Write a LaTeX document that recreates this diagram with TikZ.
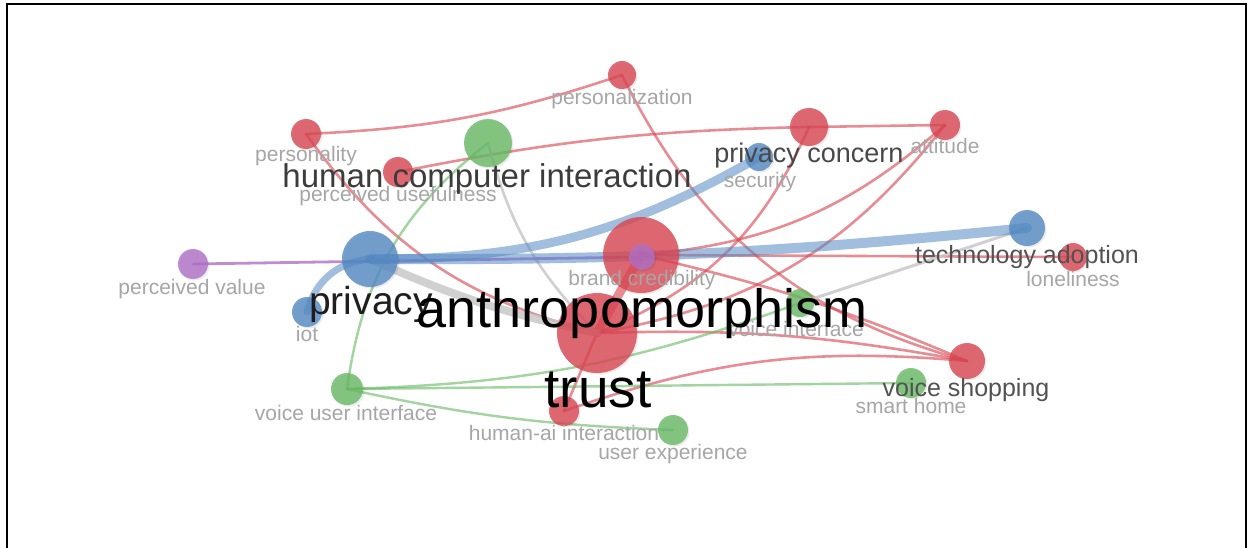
\documentclass[tikz,border=0pt]{standalone}
\usepackage{fontspec}
\setmainfont{Liberation Sans}
\pgfdeclarelayer{canvas}
\pgfdeclarelayer{links}
\pgfsetlayers{canvas,links,main}

% cluster colours
\definecolor{cRed}{RGB}{218,70,82}
\definecolor{cBlue}{RGB}{84,138,196}
\definecolor{cGreen}{RGB}{104,186,100}
\definecolor{cPurple}{RGB}{176,112,198}
\definecolor{cGrey}{RGB}{200,200,200}
\definecolor{txtSmall}{RGB}{166,166,166}
\definecolor{txtMid}{RGB}{82,82,82}

\tikzset{
  bubble/.style={circle, inner sep=0pt, outer sep=0pt, fill opacity=0.8,
    preaction={fill=black, fill opacity=0.08,
      transform canvas={shift={(1.5pt,-1.5pt)}}}},
  rednode/.style={bubble, fill=cRed, minimum size=#1},
  bluenode/.style={bubble, fill=cBlue, minimum size=#1},
  greennode/.style={bubble, fill=cGreen, minimum size=#1},
  purplenode/.style={bubble, fill=cPurple, minimum size=#1},
  link/.style={line cap=round, line width=2.6pt, draw opacity=0.62},
  redlink/.style={link, draw=cRed},
  greenlink/.style={link, draw=cGreen, line width=2.4pt},
  bluelink/.style={link, draw=cBlue, draw opacity=0.55},
  purplelink/.style={link, draw=cPurple, line width=2.8pt, draw opacity=0.8},
  greylink/.style={link, draw=cGrey, draw opacity=0.85},
  smalllabel/.style={anchor=base, inner sep=0pt, text=txtSmall,
    font=\fontsize{21}{21}\selectfont},
  midlabel/.style={anchor=base, inner sep=0pt, text=txtMid,
    font=\fontsize{#1}{#1}\selectfont},
  biglabel/.style={anchor=base, inner sep=0pt, text=black,
    font=\fontsize{#1}{#1}\selectfont},
}

\begin{document}
\begin{tikzpicture}[x=1pt, y=-1pt]
\useasboundingbox (0,0) rectangle (1249,548);
\begin{pgfonlayer}{canvas}
  \fill[white] (0,0) rectangle (1249,548);
  \draw[line width=2pt] (7,548) -- (7,4) -- (1246,4) -- (1246,548);
\end{pgfonlayer}

% keyword bubbles
\node[rednode=28]    (personalization) at (622,75)  {};
\node[rednode=30]    (personality)     at (306,134) {};
\node[greennode=48]  (hci)             at (488,143) {};
\node[rednode=30]    (percUse)         at (398,172) {};
\node[rednode=38]    (privConcern)     at (809,127) {};
\node[rednode=30]    (attitude)        at (945,125) {};
\node[bluenode=28]   (security)        at (759,157) {};
\node[bluenode=36]   (techAdopt)       at (1027,228) {};
\node[rednode=28]    (loneliness)      at (1073,257) {};
\node[rednode=76]    (anthro)          at (641,255) {};
\node[purplenode=26] (brandCred)       at (642,257) {};
\node[rednode=80]    (trust)           at (597,333) {};
\node[bluenode=56]   (privacy)         at (370,259) {};
\node[purplenode=30] (percValue)       at (193,264) {};
\node[bluenode=30]   (iot)             at (307,312) {};
\node[greennode=28]  (voiceIf)         at (800,303) {};
\node[rednode=36]    (voiceShop)       at (967,361) {};
\node[greennode=30]  (smartHome)       at (911,383) {};
\node[greennode=32]  (vui)             at (347,389) {};
\node[rednode=30]    (humanAi)         at (564,411) {};
\node[greennode=30]  (userExp)         at (673,430) {};

% co-occurrence links
\begin{pgfonlayer}{links}
  % red cluster
  \draw[redlink] (personality.center) to[bend right=8] (personalization.center);
  \draw[redlink] (personalization.center) to[bend right=24] (voiceShop.center);
  \draw[redlink] (personality.center) to[bend right=20] (trust.center);
  \draw[redlink] (percUse.center) to[bend left=5] (privConcern.center);
  \draw[redlink] (privConcern.center) -- (attitude.center);
  \draw[redlink] (privConcern.center) to[bend left=22] (trust.center);
  \draw[redlink] (attitude.center) to[bend left=18] (anthro.center);
  \draw[redlink] (attitude.center) to[bend left=21] (trust.center);
  \draw[redlink] (anthro.center) -- (loneliness.center);
  \draw[redlink] (anthro.center) to[bend left=5] (voiceShop.center);
  \draw[redlink] (trust.center) to[bend left=6] (voiceShop.center);
  \draw[redlink] (humanAi.center) to[bend left=12] (voiceShop.center);
  \draw[redlink] (humanAi.center) -- (trust.center);
  \draw[redlink, line width=9pt] (anthro.center) -- (trust.center);
  % green cluster
  \draw[greenlink] (hci.center) to[bend right=22] (vui.center);
  \draw[greenlink] (vui.center) to[bend right=9] (voiceIf.center);
  \draw[greenlink] (vui.center) -- (smartHome.center);
  \draw[greenlink] (vui.center) to[bend right=5] (userExp.center);
  % grey links between clusters
  \draw[greylink, line width=8pt] (privacy.center) to[bend right=6] (trust.center);
  \draw[greylink, line width=2.6pt] (hci.center) to[bend right=15] (trust.center);
  \draw[greylink, line width=3pt] (techAdopt.center) -- (voiceIf.center);
  % purple cluster
  \draw[purplelink] (percValue.center) -- (brandCred.center);
  % blue cluster
  \draw[bluelink, line width=9pt] (privacy.center) to[bend right=15] (security.center);
  \draw[bluelink, line width=10pt] (privacy.center) to[bend right=3] (techAdopt.center);
  \draw[bluelink, line width=7pt] (privacy.center) to[bend right=35] (iot.center);
\end{pgfonlayer}

% small labels
\node[smalllabel] (l-personalization) at (622,105) {personalization};
\node[smalllabel] (l-personality)     at (306,162) {personality};
\node[smalllabel] (l-percUse)         at (398,201) {perceived usefulness};
\node[smalllabel] (l-security)        at (760,188) {security};
\node[smalllabel] (l-attitude)        at (945,154) {attitude};
\node[smalllabel] (l-loneliness)      at (1073,286) {loneliness};
\node[smalllabel] (l-brandCred)       at (642,285) {brand credibility};
\node[smalllabel] (l-percValue)       at (192,294) {perceived value};
\node[smalllabel] (l-iot)             at (307,341) {iot};
\node[smalllabel] (l-voiceIf)         at (796,336) {voice interface};
\node[smalllabel] (l-smartHome)       at (911,413) {smart home};
\node[smalllabel] (l-vui)             at (346,420) {voice user interface};
\node[smalllabel] (l-humanAi)         at (564,440) {human-ai interaction};
\node[smalllabel] (l-userExp)         at (673,459) {user experience};

% medium labels
\node[midlabel=33, text={rgb,255:red,60;green,60;blue,60}] (l-hci) at (487,187) {human computer interaction};
\node[midlabel=27, text={rgb,255:red,72;green,72;blue,72}] (l-privConcern) at (809,163) {privacy concern};
\node[midlabel=25] (l-techAdopt) at (1027,263) {technology adoption};
\node[midlabel=25] (l-voiceShop) at (966,396) {voice shopping};
\node[midlabel=39, text={rgb,255:red,30;green,30;blue,30}] (l-privacy) at (371,314) {privacy};

% large labels
\node[biglabel=54] (l-anthro) at (642,327) {anthropomorphism};
\node[biglabel=55] (l-trust)  at (598,407) {trust};
\end{tikzpicture}
\end{document}
